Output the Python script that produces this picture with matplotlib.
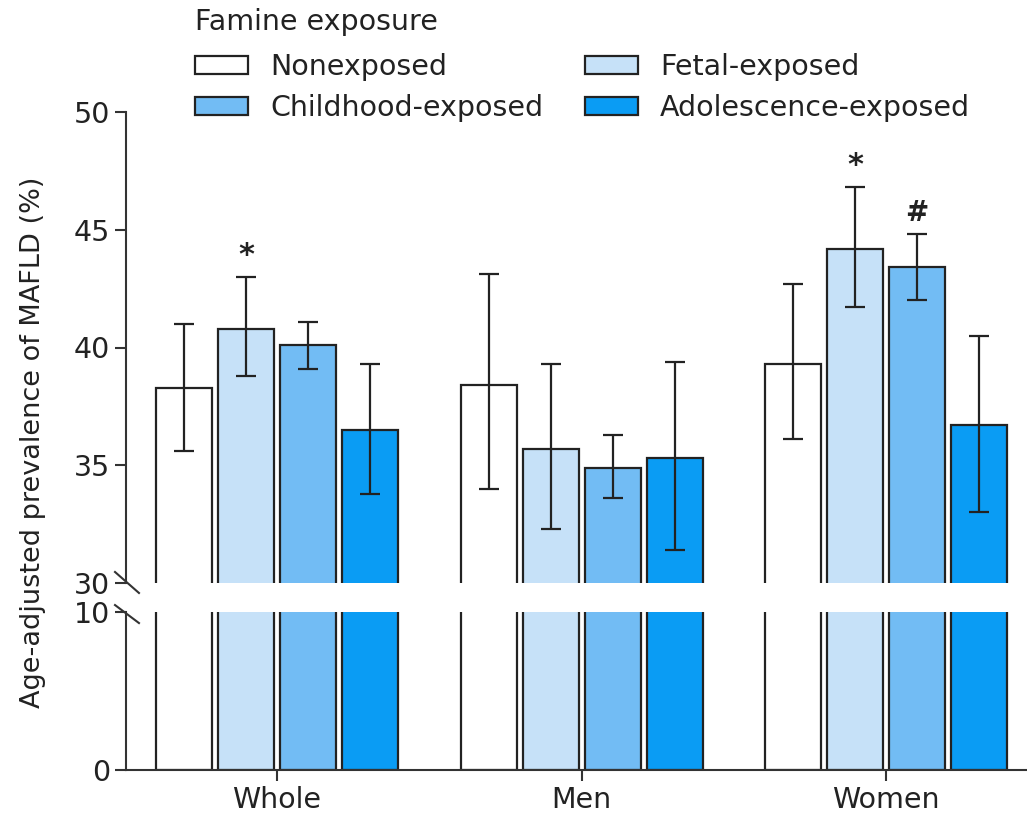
import matplotlib
matplotlib.use("Agg")
import matplotlib.pyplot as plt
import numpy as np

plt.rcParams['font.family'] = ['DejaVu Sans']

groups = ['Whole', 'Men', 'Women']
series = ['Nonexposed', 'Fetal-exposed', 'Childhood-exposed', 'Adolescence-exposed']
colors = ['#ffffff', '#c6e1f8', '#72bcf4', '#0a9cf4']

# prevalence per series, order: Whole, Men, Women
prev = {
    'Nonexposed':          [38.3, 38.4, 39.3],
    'Fetal-exposed':       [40.8, 35.7, 44.2],
    'Childhood-exposed':   [40.1, 34.9, 43.4],
    'Adolescence-exposed': [36.5, 35.3, 36.7],
}
ci_low = {
    'Nonexposed':          [35.6, 34.0, 36.1],
    'Fetal-exposed':       [38.8, 32.3, 41.7],
    'Childhood-exposed':   [39.1, 33.6, 42.0],
    'Adolescence-exposed': [33.8, 31.4, 33.0],
}
ci_high = {
    'Nonexposed':          [41.0, 43.1, 42.7],
    'Fetal-exposed':       [43.0, 39.3, 46.8],
    'Childhood-exposed':   [41.1, 36.3, 44.8],
    'Adolescence-exposed': [39.3, 39.4, 40.5],
}
# significance marks: (series, group index, symbol)
marks = [('Fetal-exposed', 0, '*'), ('Fetal-exposed', 2, '*'), ('Childhood-exposed', 2, '#')]

W, H = 1027, 814
fig = plt.figure(figsize=(W / 100, H / 100), dpi=100)
left, right = 126 / W, 1.0
ax_top = fig.add_axes([left, 1 - 583 / H, right - left, (583 - 112) / H])
ax_bot = fig.add_axes([left, 1 - 770 / H, right - left, (770 - 612) / H])

x = np.arange(len(groups))
step = 0.2036
width = 0.184
spine_c = '#333333'
fs = 20.5

for ax in (ax_top, ax_bot):
    for i, s in enumerate(series):
        pos = x + (i - 1.5) * step
        vals = np.array(prev[s])
        ax.bar(pos, vals, width, color=colors[i], edgecolor='#222222', linewidth=1.6,
               label=s, zorder=2)
        lo = vals - np.array(ci_low[s])
        hi = np.array(ci_high[s]) - vals
        ax.errorbar(pos, vals, yerr=[lo, hi], fmt='none', ecolor='#222222',
                    elinewidth=1.6, capsize=7, capthick=1.6, zorder=3)
    ax.set_xlim(-0.496, 2.463)
    ax.spines['top'].set_visible(False)
    ax.spines['right'].set_visible(False)
    for sp in ('left', 'bottom'):
        ax.spines[sp].set_linewidth(1.5)
        ax.spines[sp].set_color(spine_c)
    ax.tick_params(axis='both', labelsize=fs, width=1.5, length=8, color=spine_c,
                   labelcolor='#222222')

ax_top.set_ylim(30, 50)
ax_top.set_yticks([30, 35, 40, 45, 50])
ax_top.spines['bottom'].set_visible(False)
ax_top.set_xticks([])

ax_bot.set_ylim(0, 10)
ax_bot.set_yticks([0, 10])
ax_bot.set_xticks(x)
ax_bot.set_xticklabels(groups)

for s, g, sym in marks:
    i = series.index(s)
    ax_top.text(x[g] + (i - 1.5) * step, ci_high[s][g] + 0.3, sym,
                ha='center', va='bottom', fontsize=22 if sym == '*' else 20,
                fontweight='bold', color='#222222')

# break marks on the y axis
kw = dict(color=spine_c, linewidth=1.5, clip_on=False)
ax_top.plot([-0.0122, 0.0144], [0.0234, -0.0212], transform=ax_top.transAxes, **kw)
ax_bot.plot([-0.0122, 0.0144], [1.044, 0.930], transform=ax_bot.transAxes, **kw)

fig.text(33 / W, 1 - 442 / H, 'Age-adjusted prevalence of MAFLD (%)', rotation=90,
         ha='center', va='center', fontsize=19.5, color='#222222')

fig.text(195 / W, 1 - 22 / H, 'Famine exposure', ha='left', va='center',
         fontsize=fs, color='#222222')

handles, labels = ax_top.get_legend_handles_labels()
order = [0, 2, 1, 3]  # row-wise fill
leg = fig.legend([handles[k] for k in order], [labels[k] for k in order], ncol=2,
                 frameon=False, loc='upper left',
                 bbox_to_anchor=(181 / W, 1 - 39 / H), borderpad=0, fontsize=fs,
                 handlelength=1.86, handleheight=0.6,
                 columnspacing=1.47, labelspacing=0.44, handletextpad=0.77)
for t in leg.get_texts():
    t.set_color('#222222')

fig.savefig('out.png', dpi=100)
